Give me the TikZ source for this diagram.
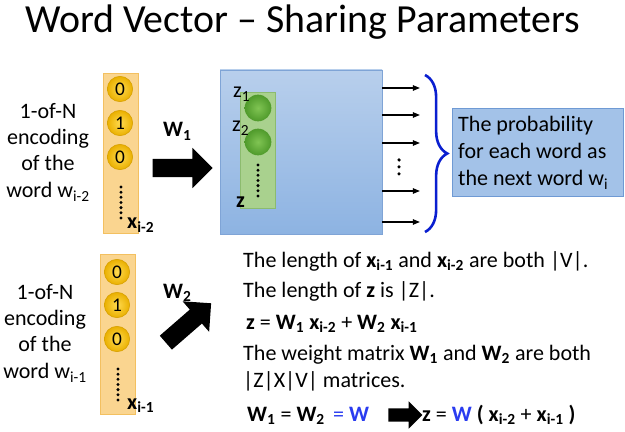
\documentclass[tikz,border=0pt]{standalone}
\usepackage{fontspec}
\setmainfont{Carlito}
\usetikzlibrary{shapes.arrows,decorations.pathreplacing,arrows.meta}
\definecolor{orcol}{HTML}{FAD590}
\definecolor{orbord}{HTML}{F3C060}
\definecolor{goldin}{HTML}{FFDA50}
\definecolor{goldout}{HTML}{EAB000}
\definecolor{goldbord}{HTML}{D6A000}
\definecolor{bluetop}{HTML}{B8CFEC}
\definecolor{bluebot}{HTML}{8DB3E2}
\definecolor{bluebord}{HTML}{7FA4D6}
\definecolor{grcol}{HTML}{A9D18E}
\definecolor{grbord}{HTML}{8CBB6E}
\definecolor{grin}{HTML}{80C453}
\definecolor{grout}{HTML}{4F9A2B}
\definecolor{boxfill}{HTML}{A3C2E8}
\definecolor{boxbord}{HTML}{6F9AD4}
\definecolor{bracecol}{HTML}{0A1FD0}
\definecolor{wblue}{HTML}{2A3CF0}
\newcommand\bx[1]{\textbf{x\textsubscript{#1}}}
\newcommand\bW[1]{\textbf{W\textsubscript{#1}}}
\begin{document}
\begin{tikzpicture}[x=0.03cm,y=-0.03cm,
  body/.style={font=\fontsize{18.8pt}{22.6pt}\selectfont, inner sep=0pt},
  titlefont/.style={font=\fontsize{34pt}{40pt}\selectfont, inner sep=0pt},
  orcolumn/.style={draw=orbord, fill=orcol, line width=0.6pt, minimum width=1.05cm, minimum height=4.8cm, inner sep=0pt},
  goldball/.style={circle, draw=goldbord, line width=0.5pt, inner color=goldin, outer color=goldout, minimum size=0.76cm, inner sep=0pt, font=\fontsize{16.5pt}{18pt}\selectfont},
  greenball/.style={circle, inner color=grin, outer color=grout, minimum size=0.8cm, inner sep=0pt},
  dotline/.style={line width=2.8pt, dash pattern=on 0pt off 4.4pt, line cap=round},
  sparsedots/.style={line width=3pt, dash pattern=on 0pt off 5.9pt, line cap=round},
  bigarrow/.style={single arrow, fill=black, inner xsep=0pt, inner ysep=0.27cm, single arrow head extend=0.33cm, minimum height=1.8cm, single arrow tip angle=90},
  smallarrow/.style={single arrow, fill=black, inner xsep=0pt, inner ysep=0.195cm, single arrow head extend=0.21cm, minimum height=1.02cm, single arrow tip angle=90},
  outarrow/.style={line width=1.3pt, -{Triangle[length=6pt,width=4.5pt]}},
  bracestyle/.style={draw=bracecol, line width=2.2pt, decorate, decoration={brace, amplitude=19pt}},
  probbox/.style={draw=boxbord, fill=boxfill, line width=0.8pt, minimum width=5.13cm, minimum height=2.64cm, inner sep=0pt},
  probtext/.style={align=left, inner sep=0pt, font=\fontsize{18.8pt}{23pt}\selectfont}
]
\useasboundingbox (0,0) rectangle (625,432);
\fill[white] (0,0) rectangle (625,432);

% title
\node[titlefont, anchor=base west] (title) at (25,33) {Word Vector – Sharing Parameters};

% ---------- upper row ----------
\node[body, align=center] (encA) at (48,152) {1-of-N\\encoding\\of the\\word w\textsubscript{i-2}};
\node[orcolumn] (colA) at (120.5,153) {};
\node[goldball] (a0) at (120,89) {0};
\node[goldball] (a1) at (120,123) {1};
\node[goldball] (a2) at (120,157) {0};
\coordinate (adt) at (121,187);
\coordinate (adb) at (121,219);
\draw[dotline] (adt) -- (adb);
\node[body, anchor=base west] (xa) at (127,229) {\bx{i-2}};

\node[body, anchor=base west] (w1lab) at (163,137) {\bW{1}};
\node[bigarrow] (arr1) at (178,168) {};

\node[draw=bluebord, line width=0.6pt, top color=bluetop, bottom color=bluebot, minimum width=4.86cm, minimum height=4.92cm, inner sep=0pt] (hid) at (301,152) {};
\node[draw=grbord, fill=grcol, line width=0.6pt, minimum width=1.05cm, minimum height=3.48cm, inner sep=0pt] (zcol) at (257.5,150) {};
\node[greenball] (g1) at (258,108) {};
\node[greenball] (g2) at (258,142) {};
\node[body, anchor=base west] (z1lab) at (233,98) {z\textsubscript{1}};
\node[body, anchor=base west] (z2lab) at (232,132) {z\textsubscript{2}};
\coordinate (gdt) at (258,165);
\coordinate (gdb) at (258,197);
\draw[dotline] (gdt) -- (gdb);
\node[body, anchor=base west] (zlab) at (236,208) {\textbf{z}};

% output arrows
\foreach \k/\yy in {1/88,2/115,3/143,4/191,5/222}{
  \coordinate (os\k) at (382,\yy);
  \coordinate (oe\k) at (420,\yy);
  \draw[outarrow] (os\k) -- (oe\k);
}
\coordinate (odt) at (399,160);
\coordinate (odb) at (399,174);
\draw[sparsedots] (odt) -- (odb);

% brace
\coordinate (bra) at (425,75);
\coordinate (brb) at (425,232);
\draw[bracestyle] (bra) -- (brb);

\node[probbox] (prob) at (537.5,152) {};
\node[probtext, anchor=west] (probt) at (458,153) {The probability\\for each word as\\the next word w\textsubscript{i}};

% ---------- lower row ----------
\node[body, align=center] (encB) at (45,333) {1-of-N\\encoding\\of the\\word w\textsubscript{i-1}};
\node[orcolumn] (colB) at (118,334.5) {};
\node[goldball] (b0) at (117,272) {0};
\node[goldball] (b1) at (117,305) {1};
\node[goldball] (b2) at (117,339) {0};
\coordinate (bdt) at (118,369);
\coordinate (bdb) at (118,402);
\draw[dotline] (bdt) -- (bdb);
\node[body, anchor=base west] (xb) at (127,409) {\bx{i-1}};

\node[body, anchor=base west] (w2lab) at (163,298) {\bW{2}};
\node[bigarrow, rotate=41] (arr2) at (185,326) {};

% explanation
\node[body, anchor=base west] (t1) at (243,267) {The length of \bx{i-1} and \bx{i-2} are both |V|.};
\node[body, anchor=base west] (t2) at (243,297) {The length of \textbf{z} is |Z|.};
\node[body, anchor=base west] (t3) at (246,329) {\textbf{z} = \bW{1} \bx{i-2} + \bW{2} \bx{i-1}};
\node[body, anchor=base west] (t4) at (243,360) {The weight matrix \bW{1} and \bW{2} are both};
\node[body, anchor=base west] (t5) at (243,387) {|Z|X|V| matrices.};
\node[body, anchor=base west] (t6a) at (247,421) {\bW{1} = \bW{2}};
\node[body, anchor=base west, text=wblue] (t6b) at (333,421) {= \textbf{W}};
\node[smallarrow] (arr3) at (402,415) {};
\node[body, anchor=base west] (t6c) at (422,421) {\textbf{z} = \textcolor{wblue}{\textbf{W}} \textbf{(} \bx{i-2} + \bx{i-1} \textbf{)}};
\end{tikzpicture}
\end{document}
